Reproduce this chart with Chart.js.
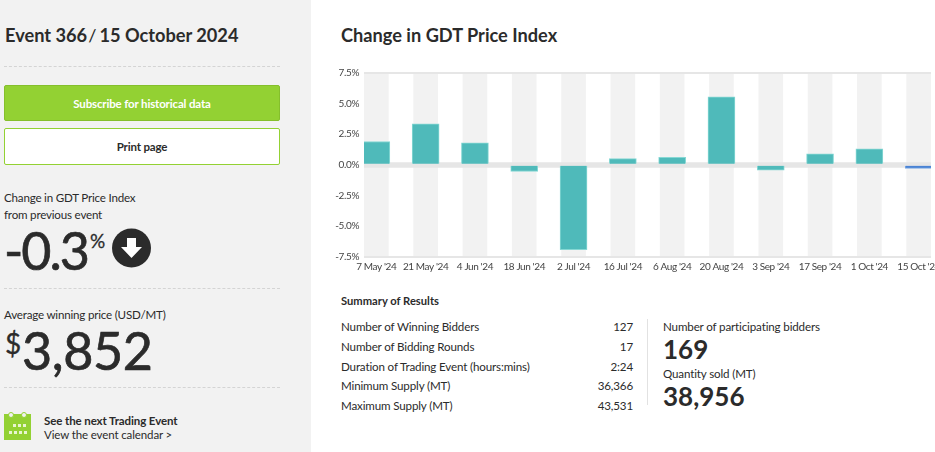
<!DOCTYPE html>
<html><head><meta charset="utf-8">
<script src="https://cdn.jsdelivr.net/npm/chart.js@4"></script>
<style>
html,body{margin:0;padding:0;width:935px;height:452px;overflow:hidden;background:#fff;font-family:Lato,sans-serif;color:#2b2b2b}
.t{position:absolute;white-space:nowrap;line-height:1}
.b{font-size:11.6px;letter-spacing:-.15px}
.l{font-size:11.6px;letter-spacing:-.2px}
#side{position:absolute;left:0;top:0;width:311px;height:452px;background:#f2f2f2}
.dot{position:absolute;left:4px;width:276px;border-top:1px dashed #d4d4d4;height:0}
.btn{position:absolute;left:4px;width:276px;box-sizing:border-box;text-align:center;border-radius:2px;font-size:11.5px;font-weight:700;letter-spacing:-.15px}
#wrap{position:absolute;left:320px;top:60px;width:700px;height:222px}
</style></head><body>
<div id="side"></div>
<div class="t" style="left:5px;top:26px;font-size:18.2px;font-weight:700">Event 366<span style="font-weight:400;margin:0 3px 0 1px">/</span>15 October 2024</div>
<div class="dot" style="top:66px"></div>
<div class="btn" style="top:85px;height:36px;line-height:35px;background:#93d133;border:1px solid #85bf2c;color:#fff">Subscribe for historical data</div>
<div class="btn" style="top:128px;height:37px;line-height:35px;background:#fff;border:1px solid #93d133;color:#2b2b2b">Print page</div>
<div class="t l" style="left:4px;top:192px">Change in GDT Price Index</div>
<div class="t l" style="left:4px;top:209px">from previous event</div>
<div class="t" style="left:4px;top:224px;font-size:52px;letter-spacing:-2px;-webkit-text-stroke:.7px #2b2b2b">-0.3</div>
<div class="t" style="left:90px;top:231px;font-size:19px;-webkit-text-stroke:.3px #2b2b2b">%</div>
<svg style="position:absolute;left:112px;top:228px" width="40" height="40" viewBox="0 0 40 40"><circle cx="19.5" cy="20" r="19.500" fill="#2b2b2b"/><path d="M15 10h9v9h6l-10.500 11L9 19h6z" fill="#fff"/></svg>
<div class="dot" style="top:288px"></div>
<div class="t l" style="left:4px;top:309px">Average winning price (USD/MT)</div>
<div class="t" style="left:5px;top:329px;font-size:28px;-webkit-text-stroke:.3px #2b2b2b">$</div>
<div class="t" style="left:22px;top:324px;font-size:52px;letter-spacing:-.4px;-webkit-text-stroke:.7px #2b2b2b">3,852</div>
<div class="dot" style="top:387px"></div>
<svg style="position:absolute;left:4px;top:412px" width="27" height="28" viewBox="0 0 27 28"><rect y="2" width="27" height="26" fill="#93d133"/><circle cx="7" cy="3" r="2.500" fill="#f2f2f2" stroke="#93d133"/><circle cx="20" cy="3" r="2.500" fill="#f2f2f2" stroke="#93d133"/><g fill="#e8f5d0"><rect x="9" y="12" width="3" height="3"/><rect x="14" y="12" width="3" height="3"/><rect x="19" y="12" width="3" height="3"/><rect x="5" y="19" width="3" height="3"/><rect x="10" y="19" width="3" height="3"/><rect x="15" y="19" width="3" height="3"/><rect x="20" y="19" width="3" height="3"/></g></svg>
<div class="t" style="left:44px;top:415px;font-size:11.5px;font-weight:700;letter-spacing:-.1px">See the next Trading Event</div>
<div class="t" style="left:44px;top:429px;font-size:11.5px;letter-spacing:-.12px">View the event calendar &gt;</div>

<div class="t" style="left:341px;top:26px;font-size:18.200px;font-weight:700">Change in GDT Price Index</div>
<div id="wrap"><canvas id="c" width="700" height="222"></canvas></div>
<div class="t" style="left:341px;top:295px;font-size:11.200px;font-weight:700">Summary of Results</div>
<div class="t b" style="left:341px;top:321px">Number of Winning Bidders</div>
<div class="t b" style="right:302px;top:321px">127</div>
<div class="t b" style="left:341px;top:341px">Number of Bidding Rounds</div>
<div class="t b" style="right:302px;top:341px">17</div>
<div class="t b" style="left:341px;top:361px">Duration of Trading Event (hours:mins)</div>
<div class="t b" style="right:302px;top:361px">2:24</div>
<div class="t b" style="left:341px;top:380px">Minimum Supply (MT)</div>
<div class="t b" style="right:302px;top:380px">36,366</div>
<div class="t b" style="left:341px;top:400px">Maximum Supply (MT)</div>
<div class="t b" style="right:302px;top:400px">43,531</div>
<div style="position:absolute;left:647px;top:319px;height:86px;border-left:1px solid #e2e2e2"></div>
<div class="t b" style="left:663px;top:321px">Number of participating bidders</div>
<div class="t" style="left:663px;top:336px;font-size:26px;font-weight:700">169</div>
<div class="t b" style="left:663px;top:368px">Quantity sold (MT)</div>
<div class="t" style="left:663px;top:383px;font-size:26px;font-weight:700">38,956</div>
<script>
const categories=["7 May '24","21 May '24","4 Jun '24","18 Jun '24","2 Jul '24","16 Jul '24","6 Aug '24","20 Aug '24","3 Sep '24","17 Sep '24","1 Oct '24","15 Oct '24"];
const changeValues=[1.9,3.35,1.8,-0.55,-6.95,0.5,0.6,5.55,-0.45,0.9,1.3,-0.3];
const yTicks=[-7.5,-5,-2.5,0,2.5,5,7.5];
const barColor='#4fbaba',barEdge='#86d8d4',lastColor='#4a83d4',lastEdge='#7aa8e4';
const bands={id:'bands',beforeDraw(ch){
  const {ctx,chartArea:a,scales:{x,y}}=ch;
  ctx.letterSpacing='-0.4px';
  ctx.save();ctx.fillStyle='#f2f2f2';
  categories.forEach((_,i)=>{const l=x.getPixelForValue(i-0.25),r=x.getPixelForValue(i+0.25);ctx.fillRect(l,a.top,r-l,a.bottom-a.top);});
  ctx.fillStyle='#e6e6e6';
  ctx.fillRect(a.left,y.getPixelForValue(0)-2.5,a.right-a.left,5.5);
  ctx.restore();
}};
new Chart(document.getElementById('c'),{
 type:'bar',
 data:{datasets:[{
  data:changeValues.map((v,i)=>({x:i,y:v})),
  backgroundColor:changeValues.map((v,i)=>i===changeValues.length-1?lastColor:barColor),
  borderColor:changeValues.map((v,i)=>i===changeValues.length-1?lastEdge:barEdge),
  borderWidth:1,barThickness:27
 }]},
 plugins:[bands],
 options:{
  responsive:false,animation:false,
  layout:{padding:{left:0,right:89,top:13,bottom:5}},
  plugins:{legend:{display:false},tooltip:{enabled:false}},
  scales:{
   x:{type:'linear',offset:false,min:-0.25,max:11.25,
    afterBuildTicks(s){s.ticks=categories.map((_,i)=>({value:i}));},
    afterFit(s){s.height=20.5;},
    ticks:{autoSkip:false,maxRotation:0,minRotation:0,padding:4,color:'#444',font:{family:'Lato',size:10},callback:v=>categories[v]},
    grid:{display:false,drawTicks:false,offset:false},border:{display:false}},
   y:{min:-7.5,max:7.5,
    afterBuildTicks(s){s.ticks=yTicks.map(v=>({value:v}));},
    afterFit(s){s.width=44;},
    ticks:{padding:5,color:'#444',font:{family:'Lato',size:10},callback:v=>v.toFixed(1)+'%'},
    grid:{drawTicks:false,color:c=>Math.abs(c.tick.value)===7.5?'#e6e6e6':'rgba(0,0,0,0)',lineWidth:2},
    border:{display:false}}
  }
 }
});
</script>
</body></html>
